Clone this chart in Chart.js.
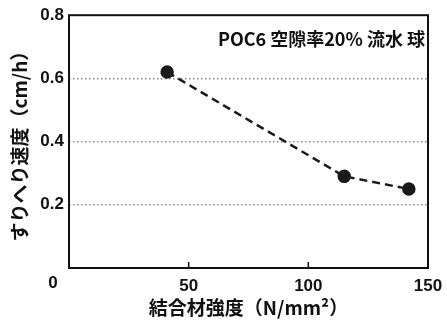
<!DOCTYPE html>
<html>
<head>
<meta charset="utf-8">
<script src="https://cdn.jsdelivr.net/npm/chart.js@4/dist/chart.umd.min.js"></script>
<style>
  html, body { margin: 0; padding: 0; background: #fff; }
  #wrap { width: 447px; height: 320px; }
</style>
</head>
<body>
<div id="wrap"><canvas id="chart" width="447" height="320"></canvas></div>
<script>
// 結合材強度 (N/mm2) と すりへり速度 (cm/h)
const strength = [41, 115, 142];
const wearRate = [0.62, 0.29, 0.25];
const xTicks = [0, 50, 100, 150];
const yTicks = [0, 0.2, 0.4, 0.6, 0.8];
const noteText = 'POC6 空隙率20% 流水 球';

const tickFont = { family: '"Liberation Sans", Arial, sans-serif', size: 17, weight: 'bold' };
const jpFont = '"Noto Sans CJK JP", "Liberation Sans", sans-serif';

// 枠・原点の0・内向き目盛り・注記
const framePlugin = {
    id: 'frame',
    afterDraw(chart) {
        const { ctx, chartArea: a, scales } = chart;
        ctx.save();
        ctx.strokeStyle = '#111';
        ctx.lineWidth = 2;
        ctx.strokeRect(a.left, a.top, a.right - a.left, a.bottom - a.top);

        // 内向きの目盛り
        ctx.lineWidth = 1.5;
        [50, 100].forEach(function (v) {
            const px = scales.x.getPixelForValue(v);
            ctx.beginPath();
            ctx.moveTo(px, a.bottom);
            ctx.lineTo(px, a.bottom - 6);
            ctx.stroke();
        });

        // 原点の 0
        ctx.fillStyle = '#111';
        ctx.font = 'bold 17px "Liberation Sans", Arial, sans-serif';
        ctx.textAlign = 'center';
        ctx.textBaseline = 'middle';
        ctx.fillText('0', a.left - 16, a.bottom + 15);

        // 注記
        ctx.font = 'bold 18px ' + jpFont;
        ctx.textAlign = 'right';
        ctx.fillText(noteText, a.right - 3, a.top + 24);
        ctx.restore();
    }
};

const ctx = document.getElementById('chart').getContext('2d');

new Chart(ctx, {
    type: 'scatter',
    data: {
        datasets: [{
            data: strength.map(function (x, i) { return { x: x, y: wearRate[i] }; }),
            showLine: true,
            borderColor: '#1a1a1a',
            borderWidth: 2.5,
            borderDash: [8, 5],
            pointBackgroundColor: '#1a1a1a',
            pointBorderColor: '#1a1a1a',
            pointRadius: 5.5
        }]
    },
    options: {
        responsive: false,
        animation: false,
        layout: { padding: { top: 13, right: 19, left: 0, bottom: 0 } },
        plugins: {
            legend: { display: false },
            tooltip: { enabled: false }
        },
        scales: {
            x: {
                type: 'linear',
                min: 0,
                max: 150,
                afterBuildTicks: function (s) { s.ticks = xTicks.map(function (v) { return { value: v }; }); },
                afterFit: function (s) { s.height = 52; },
                border: { display: false },
                grid: { display: false },
                ticks: {
                    color: '#111',
                    font: tickFont,
                    padding: 0,
                    maxRotation: 0,
                    callback: function (v) { return v === 0 ? '' : v; }
                },
                title: {
                    display: true,
                    text: '結合材強度（N/mm²）',
                    color: '#111',
                    font: { family: jpFont, size: 19, weight: 'bold' },
                    padding: { top: 0, bottom: 1 }
                }
            },
            y: {
                min: 0,
                max: 0.8,
                afterBuildTicks: function (s) { s.ticks = yTicks.map(function (v) { return { value: v }; }); },
                afterFit: function (s) { s.width = 69; },
                border: { display: false, dash: [1.5, 2.5] },
                grid: {
                    color: function (c) {
                        const v = c.tick.value;
                        return (v === 0 || v === 0.8) ? 'rgba(0,0,0,0)' : '#8a8a8a';
                    },
                    lineWidth: 1.5,
                    tickLength: 0
                },
                ticks: {
                    color: '#111',
                    font: tickFont,
                    padding: 5,
                    callback: function (v) { return v === 0 ? '' : v.toFixed(1); }
                },
                title: {
                    display: true,
                    text: 'すりへり速度（cm/h）',
                    color: '#111',
                    font: { family: jpFont, size: 19, weight: 'bold' },
                    padding: { top: 8, bottom: 0 }
                }
            }
        }
    },
    plugins: [framePlugin]
});
</script>
</body>
</html>
